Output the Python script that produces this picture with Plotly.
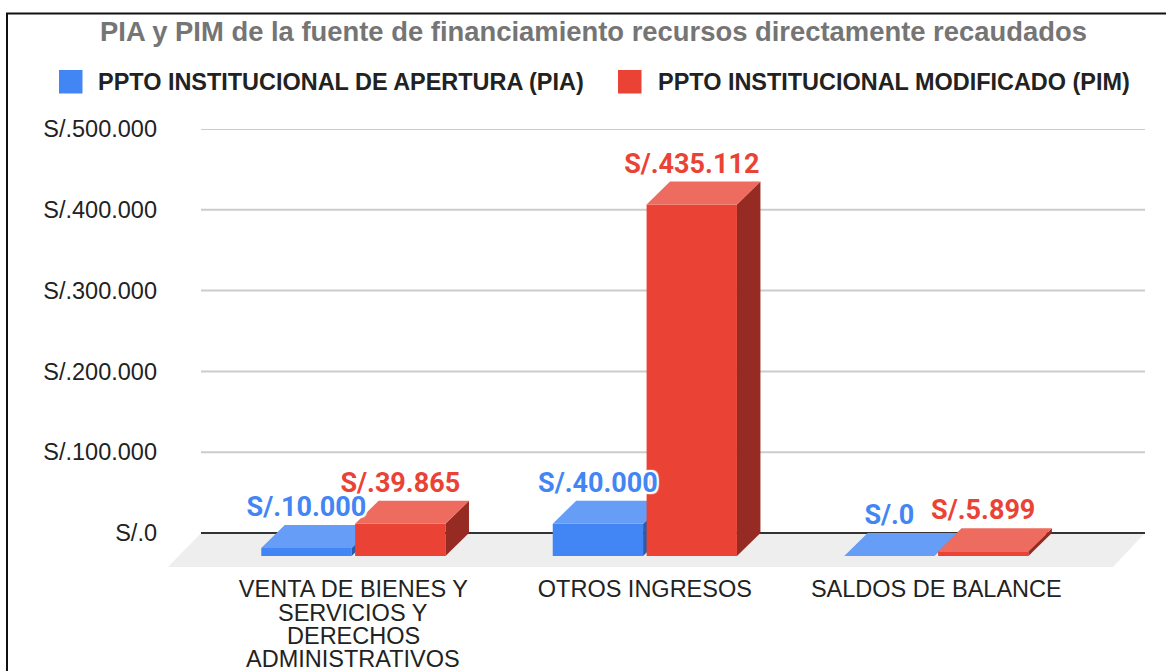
import plotly.graph_objects as go

categories = ["VENTA DE BIENES Y", "OTROS INGRESOS", "SALDOS DE BALANCE"]
extra_label_lines = [["SERVICIOS Y", "DERECHOS", "ADMINISTRATIVOS"], [], []]
pia_values = [10000, 40000, 0]
pim_values = [39865, 435112, 5899]
pia_labels = ["S/.10.000", "S/.40.000", "S/.0"]
pim_labels = ["S/.39.865", "S/.435.112", "S/.5.899"]
y_ticks = [0, 100000, 200000, 300000, 400000, 500000]
y_ticklabels = ["S/.0", "S/.100.000", "S/.200.000", "S/.300.000", "S/.400.000", "S/.500.000"]
title_text = "PIA y PIM de la fuente de financiamiento recursos directamente recaudados"
legend_pia = "PPTO INSTITUCIONAL DE APERTURA (PIA)"
legend_pim = "PPTO INSTITUCIONAL MODIFICADO (PIM)"

W, H = 1166, 671
L, R, T, B = 168, 1145, 129, 567
XR = [-0.636, 2.716]
YR = [-42100, 500000]
BAR_W = 0.31
OFFS = 0.161
DX = 0.0806
DY = 28500
LABEL_LIFT = 2500
SANS = "Liberation Sans, Arial, sans-serif"
ROBOTO = "Roboto, sans-serif"
BLUE, BLUE_TOP, BLUE_SIDE = "#4285F4", "#669DF6", "#2A5CAA"
RED, RED_TOP, RED_SIDE = "#EA4335", "#EE6B5F", "#962B23"
HALO = ",".join(f"{a}px {b}px 1px #fff" for a in (-2, 0, 2) for b in (-2, 0, 2))


def px(x):
    return (x - L) / (R - L)


def py(y):
    return (B - y) / (B - T)


def faces(xs, vals):
    """Top and side faces of each bar, from its value."""
    tx, ty, sx, sy = [], [], [], []
    for c, v in zip(xs, vals):
        a, b = c - BAR_W / 2, c + BAR_W / 2
        f = v - DY
        tx += [a, b, b + DX, a + DX, a, None]
        ty += [f, f, v, v, f, None]
        sx += [b, b + DX, b + DX, b, b, None]
        sy += [-DY, 0, v, f, -DY, None]
    return tx, ty, sx, sy


def series(name, offs, vals, labels, front, top, side, xa, ya):
    xs = [i + offs for i in range(len(vals))]
    tx, ty, sx, sy = faces(xs, vals)
    return [
        go.Bar(x=xs, y=vals, base=[-DY] * len(vals), width=BAR_W, name=name, marker=dict(color=front, line_width=0),
               xaxis=xa, yaxis=ya, hoverinfo="skip"),
        go.Scatter(x=sx, y=sy, fill="toself", fillcolor=side, mode="none", xaxis=xa, yaxis=ya, hoverinfo="skip"),
        go.Scatter(x=tx, y=ty, fill="toself", fillcolor=top, mode="none", xaxis=xa, yaxis=ya, hoverinfo="skip"),
    ], go.Scatter(x=xs, y=[v + LABEL_LIFT for v in vals], mode="text", text=labels, textposition="top center",
                  cliponaxis=False,
                  textfont=dict(family=ROBOTO, size=27, color=front, weight="bold", shadow=HALO),
                  xaxis="x2", yaxis="y2", hoverinfo="skip")


blue_traces, blue_text = series(legend_pia, -OFFS, pia_values, pia_labels, BLUE, BLUE_TOP, BLUE_SIDE, "x", "y")
red_traces, red_text = series(legend_pim, OFFS, pim_values, pim_labels, RED, RED_TOP, RED_SIDE, "x2", "y2")
fig = go.Figure(blue_traces + red_traces + [blue_text, red_text])

GRID_X0 = XR[0] + (201 - L) / (R - L) * (XR[1] - XR[0])
shapes = [dict(type="path", layer="below", xref="x", yref="y", fillcolor="#EEEEEE", line_width=0,
               path=f"M{XR[0]},{YR[0]} L{XR[1] - (R - 1113) / (R - L) * (XR[1] - XR[0])},{YR[0]} L{XR[1]},0 L{GRID_X0},0 Z")]
for t in y_ticks:
    shapes.append(dict(type="line", layer="below", xref="x", yref="y", x0=GRID_X0, x1=XR[1], y0=t, y1=t,
                       line=dict(color="#333333" if t == 0 else "#CCCCCC", width=2)))
# legend swatches
for x0, color in ((59, BLUE), (618, RED)):
    shapes.append(dict(type="rect", xref="paper", yref="paper", x0=px(x0), x1=px(x0 + 23.5), y0=py(93.5), y1=py(70),
                       fillcolor=color, line_width=0))
# outer frame
shapes.append(dict(type="path", xref="paper", yref="paper", line=dict(color="#111111", width=2),
                   path=f"M{px(7)},{py(680)} L{px(7)},{py(13.5)} L{px(1170)},{py(13.5)}"))

annotations = [
    dict(text=f"<b>{title_text}</b>", xref="paper", yref="paper", x=px(593.5), y=py(32), showarrow=False,
         font=dict(family=SANS, size=27.4, color="#757575"), xanchor="center", yanchor="middle"),
    dict(text=f"<b>{legend_pia}</b>", xref="paper", yref="paper", x=px(96), y=py(82), showarrow=False,
         font=dict(family=SANS, size=23.45, color="#222222"), xanchor="left", yanchor="middle"),
    dict(text=f"<b>{legend_pim}</b>", xref="paper", yref="paper", x=px(656), y=py(82), showarrow=False,
         font=dict(family=SANS, size=23.45, color="#222222"), xanchor="left", yanchor="middle"),
]
for i, lines in enumerate(extra_label_lines):
    for j, line in enumerate(lines):
        annotations.append(dict(text=line, xref="x", yref="paper", x=i, y=py(612.5 + 23.4 * j), showarrow=False,
                                font=dict(family=SANS, size=23.5, color="#222222"), xanchor="center", yanchor="middle"))

fig.update_layout(
    width=W, height=H, autosize=False, margin=dict(l=L, r=W - R, t=T, b=H - B),
    paper_bgcolor="white", plot_bgcolor="rgba(0,0,0,0)", showlegend=False, barmode="overlay",
    shapes=shapes, annotations=annotations,
    xaxis=dict(range=XR, tickmode="array", tickvals=[0, 1, 2], ticktext=categories, showgrid=False, zeroline=False,
               showline=False, ticks="", tickfont=dict(family=SANS, size=23.5, color="#222222"), ticklabelstandoff=5,
               fixedrange=True),
    yaxis=dict(range=YR, tickmode="array", tickvals=y_ticks, ticktext=y_ticklabels, showgrid=False, zeroline=False,
               showline=False, ticks="", tickfont=dict(family=SANS, size=23.5, color="#222222"), ticklabelstandoff=10,
               fixedrange=True),
    xaxis2=dict(range=XR, overlaying="x", visible=False, fixedrange=True),
    yaxis2=dict(range=YR, overlaying="y", visible=False, fixedrange=True),
)
for tr in fig.data:
    tr.showlegend = False
fig.write_html("out.html", config=dict(displayModeBar=False),
               post_script="document.body.style.margin='0';document.documentElement.style.overflow='hidden';")
